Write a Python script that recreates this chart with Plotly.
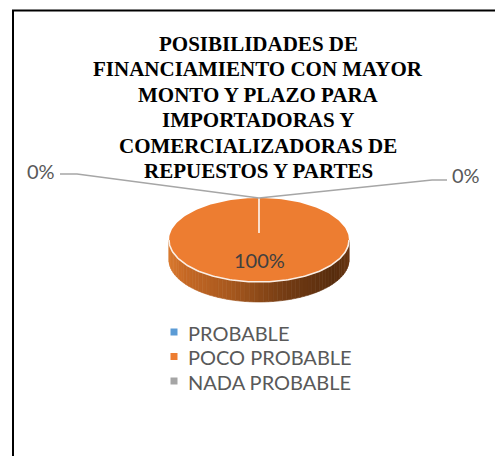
import numpy as np
import plotly.graph_objects as go

# data
categories = ["PROBABLE", "POCO PROBABLE", "NADA PROBABLE"]
values = [0, 100, 0]
colors = ["#5B9BD5", "#ED7D31", "#A5A5A5"]
title_lines = ["POSIBILIDADES DE", "FINANCIAMIENTO CON MAYOR", "MONTO Y PLAZO PARA",
               "IMPORTADORAS Y", "COMERCIALIZADORAS DE", "REPUESTOS Y PARTES"]

W, H = 495, 456
# pie geometry (pixels)
cx, cy, rx, ry, depth = 259, 240, 90, 42, 20


def ell(theta, dy=0):
    # theta in radians, clockwise from the top
    return cx + rx * np.sin(theta), cy - ry * np.cos(theta) + dy


fig = go.Figure()

# side of the 3D pie (front half), shaded left -> right
stops = [0.0, 0.08, 0.35, 0.65, 0.92, 1.0]
stop_rgb = np.array([[218, 122, 48], [200, 106, 38], [166, 88, 30],
                     [116, 60, 20], [88, 45, 14], [104, 53, 17]])
n = 60
th = np.linspace(3 * np.pi / 2, np.pi / 2, n + 1)
for i in range(n):
    t0, t1 = th[i], th[i + 1]
    x0, y0 = ell(t0)
    x1, y1 = ell(t1)
    f = ((x0 + x1) / 2 - (cx - rx)) / (2 * rx)
    c = [np.interp(f, stops, stop_rgb[:, j]) for j in range(3)]
    col = "rgb(%d,%d,%d)" % tuple(c)
    fig.add_trace(go.Scatter(x=[x0, x1, x1, x0, x0], y=[y0, y1, y1 + depth, y0 + depth, y0],
                             mode="lines", fill="toself", fillcolor=col,
                             line=dict(color=col, width=0.6), hoverinfo="skip",
                             showlegend=False))

# top face slices from the values
total = sum(values)
start = 0.0
mids = []
for cat, v, col in zip(categories, values, colors):
    ang = 2 * np.pi * v / total
    mids.append(start + ang / 2)
    if v > 0:
        tt = np.linspace(start, start + ang, 200)
        xs, ys = ell(tt)
        fig.add_trace(go.Scatter(x=np.r_[cx, xs, cx], y=np.r_[cy, ys, cy], mode="lines",
                                 fill="toself", fillcolor=col, line=dict(color=col, width=0),
                                 hoverinfo="skip", showlegend=False))
    start += ang

# white rim between top face and side
tt = np.linspace(np.pi / 2, 3 * np.pi / 2, 120)
xs, ys = ell(tt)
fig.add_trace(go.Scatter(x=xs, y=ys, mode="lines", line=dict(color="#FBEFE6", width=1.6),
                         hoverinfo="skip", showlegend=False))
# slice border at the top
tx, ty = ell(0.0)
fig.add_trace(go.Scatter(x=[cx, tx], y=[cy - 7, ty], mode="lines",
                         line=dict(color="white", width=1.5), hoverinfo="skip", showlegend=False))

# data labels
label_pos = {0: (41, 171, 77, 174, 60), 2: (466, 175, 432, 180, 447)}
for i, (cat, v) in enumerate(zip(categories, values)):
    txt = "%d%%" % round(100 * v / total)
    if v == 0:
        lx, ly, kx, ky, ex = label_pos[i]
        px_, py_ = ell(mids[i])
        fig.add_trace(go.Scatter(x=[px_, kx, ex], y=[py_, ky, ky], mode="lines",
                                 line=dict(color="#A6A6A6", width=1.3), hoverinfo="skip",
                                 showlegend=False))
        fig.add_annotation(x=lx, y=ly, text=txt, showarrow=False,
                           font=dict(family="Lato", size=20, color="#595959"))
    else:
        fig.add_annotation(x=cx, y=260, text=txt, showarrow=False,
                           font=dict(family="Lato", size=20, color="#404040"))

# legend (drawn by hand to get Excel's tight row spacing)
leg_y = [332 + 24.5 * k for k in range(len(categories))]
fig.add_trace(go.Scatter(x=[174] * len(categories), y=leg_y, mode="markers",
                         marker=dict(symbol="square", size=7, color=colors),
                         hoverinfo="skip", showlegend=False))
for cat, yy in zip(categories, leg_y):
    fig.add_annotation(x=186, y=yy + 0.5, text=cat, showarrow=False, xanchor="left",
                       font=dict(family="Lato", size=20, color="#595959"))

# title
for k, line in enumerate(title_lines):
    fig.add_annotation(x=258, y=44 + 25.4 * k, text="<b>%s</b>" % line, showarrow=False,
                       font=dict(family="Liberation Serif", size=21, color="black"))

# chart frame
fig.add_shape(type="rect", xref="x", yref="y", x0=13, y0=10.5, x1=W + 20, y1=H + 20,
              line=dict(color="black", width=2))

fig.update_xaxes(range=[0, W], visible=False, fixedrange=True)
fig.update_yaxes(range=[H, 0], visible=False, fixedrange=True)
fig.update_layout(
    width=W, height=H, margin=dict(l=0, r=0, t=0, b=0),
    paper_bgcolor="white", plot_bgcolor="white", showlegend=False,
)

fig.write_html("out.html", config={"displayModeBar": False},
               post_script="document.body.style.margin='0';document.body.style.overflow='hidden';")
